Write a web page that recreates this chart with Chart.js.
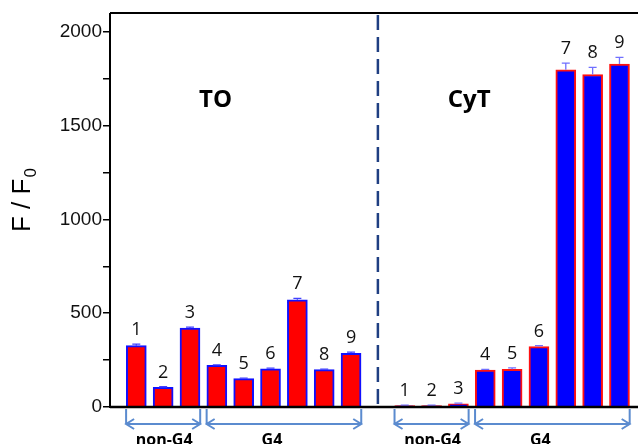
<!DOCTYPE html>
<html>
<head>
<meta charset="utf-8">
<script src="https://cdn.jsdelivr.net/npm/chart.js@4/dist/chart.umd.min.js"></script>
<style>
  html, body { margin: 0; padding: 0; background: #fff; overflow: hidden; }
  #wrap { width: 638px; height: 444px; position: relative; }
</style>
</head>
<body>
<div id="wrap"><canvas id="c" width="638" height="444"></canvas></div>
<script>
// Sample numbers shown above each bar
const samples = ['1', '2', '3', '4', '5', '6', '7', '8', '9'];
// Dye names for the two panels
const dyes = ['TO', 'CyT'];
// Sample groups (in order) and how many samples each holds
const groupNames = ['non-G4', 'G4'];
const groupSizes = [3, 6];

// Fluorescence enhancement F/F0 and error for each sample
const toValues  = [327, 105, 420, 222, 151, 204, 571, 199, 286];
const toErrors  = [8, 3, 6, 3, 3, 3, 8, 3, 6];
const cytValues = [7, 7, 17, 197, 201, 322, 1797, 1772, 1828];
const cytErrors = [3, 3, 4, 4, 8, 5, 36, 38, 35];

// y axis ticks
const yTickStep = 250;
const yLabelStep = 500;

// slot index on the x axis: first panel, one empty slot, second panel
const n = samples.length;
const slotTO  = i => i;
const slotCyT = i => i + n + 1;

const toData  = toValues.map((v, i) => ({ x: slotTO(i), y: v }));
const cytData = cytValues.map((v, i) => ({ x: slotCyT(i), y: v }));

const annotations = {
  id: 'annotations',
  afterDatasetsDraw(chart) {
    const ctx = chart.ctx;
    const xs = chart.scales.x, ys = chart.scales.y;
    const area = chart.chartArea;

    // error bars
    const drawErr = (vals, errs, slotFn, color) => {
      ctx.save();
      ctx.strokeStyle = color;
      ctx.lineWidth = 1.3;
      vals.forEach((v, i) => {
        const x = xs.getPixelForValue(slotFn(i));
        const yTop = ys.getPixelForValue(v + errs[i]);
        const yMid = ys.getPixelForValue(v);
        ctx.beginPath();
        ctx.moveTo(x, yMid); ctx.lineTo(x, yTop);
        ctx.moveTo(x - 4, yTop); ctx.lineTo(x + 4, yTop);
        ctx.stroke();
      });
      ctx.restore();
    };
    drawErr(toValues, toErrors, slotTO, '#4040ff');
    drawErr(cytValues, cytErrors, slotCyT, '#7070ff');

    // sample numbers over the bars
    ctx.save();
    ctx.fillStyle = '#111';
    ctx.font = '18px "Open Sans", sans-serif';
    ctx.textAlign = 'center';
    ctx.textBaseline = 'alphabetic';
    const drawNums = (vals, errs, slotFn) => {
      vals.forEach((v, i) => {
        const x = xs.getPixelForValue(slotFn(i));
        const y = ys.getPixelForValue(v + errs[i]) - 9;
        ctx.fillText(samples[i], x, y);
      });
    };
    drawNums(toValues, toErrors, slotTO);
    drawNums(cytValues, cytErrors, slotCyT);
    ctx.restore();

    // dashed separator between the two dyes
    ctx.save();
    const xSep = xs.getPixelForValue(n);
    ctx.strokeStyle = '#1f3f82';
    ctx.lineWidth = 2.5;
    ctx.setLineDash([15, 7]);
    ctx.beginPath();
    ctx.moveTo(xSep, area.top + 2);
    ctx.lineTo(xSep, area.bottom);
    ctx.stroke();
    ctx.restore();

    // dye names
    ctx.save();
    ctx.fillStyle = '#000';
    ctx.font = 'bold 24px "Open Sans", sans-serif';
    ctx.textAlign = 'center';
    ctx.textBaseline = 'alphabetic';
    ctx.fillText(dyes[0], xs.getPixelForValue(2.95), 107);
    ctx.fillText(dyes[1], xs.getPixelForValue(12.4), 107);
    ctx.restore();

    // frame
    ctx.save();
    ctx.strokeStyle = '#000';
    ctx.lineWidth = 2;
    ctx.beginPath();
    ctx.moveTo(area.left, area.top); ctx.lineTo(area.right, area.top);
    ctx.moveTo(area.left, area.top); ctx.lineTo(area.left, area.bottom + 1);
    ctx.stroke();
    ctx.lineWidth = 2.5;
    ctx.beginPath();
    ctx.moveTo(area.left, area.bottom); ctx.lineTo(area.right, area.bottom);
    ctx.stroke();
    ctx.restore();
  },
  afterDraw(chart) {
    const ctx = chart.ctx;
    const xs = chart.scales.x;
    const area = chart.chartArea;

    // group brackets with double-headed arrows
    const yArrow = area.bottom + 17;
    const drawArrow = (x1, x2) => {
      ctx.beginPath();
      ctx.moveTo(x1, area.bottom + 2); ctx.lineTo(x1, yArrow);
      ctx.moveTo(x2, area.bottom + 2); ctx.lineTo(x2, yArrow);
      ctx.moveTo(x1, yArrow); ctx.lineTo(x2, yArrow);
      ctx.moveTo(x1 + 8, yArrow - 5); ctx.lineTo(x1, yArrow); ctx.lineTo(x1 + 8, yArrow + 5);
      ctx.moveTo(x2 - 8, yArrow - 5); ctx.lineTo(x2, yArrow); ctx.lineTo(x2 - 8, yArrow + 5);
      ctx.stroke();
    };
    ctx.save();
    ctx.strokeStyle = '#5b8bcf';
    ctx.lineWidth = 2;
    ctx.lineJoin = 'miter';
    const labels = [];
    [slotTO, slotCyT].forEach(slotFn => {
      let start = 0;
      groupSizes.forEach((size, g) => {
        const x1 = xs.getPixelForValue(slotFn(start) - 0.38);
        const x2 = xs.getPixelForValue(slotFn(start + size - 1) + 0.38);
        drawArrow(x1, x2);
        const shift = g === 0 ? 1 : -12;
        labels.push([groupNames[g], (x1 + x2) / 2 + shift]);
        start += size;
      });
    });
    ctx.restore();

    ctx.save();
    ctx.fillStyle = '#000';
    ctx.font = 'bold 16px "Open Sans", sans-serif';
    ctx.textAlign = 'center';
    ctx.textBaseline = 'alphabetic';
    labels.forEach(([t, x]) => ctx.fillText(t, x, 445));
    ctx.restore();

    // y axis title F / F0
    ctx.save();
    ctx.translate(30, 232);
    ctx.rotate(-Math.PI / 2);
    ctx.fillStyle = '#000';
    ctx.textBaseline = 'alphabetic';
    ctx.textAlign = 'left';
    ctx.font = '26px "Liberation Sans", Arial, sans-serif';
    const main = 'F / F';
    ctx.fillText(main, 0, 0);
    const w = ctx.measureText(main).width;
    ctx.font = '17px "Liberation Sans", Arial, sans-serif';
    ctx.fillText('0', w + 1, 6);
    ctx.restore();
  }
};

new Chart(document.getElementById('c'), {
  type: 'bar',
  data: {
    datasets: [
      {
        label: dyes[0],
        data: toData,
        backgroundColor: '#ff0000',
        borderColor: '#1010ff',
        borderWidth: 2,
        borderSkipped: 'bottom'
      },
      {
        label: dyes[1],
        data: cytData,
        backgroundColor: '#0000ff',
        borderColor: '#ff1010',
        borderWidth: 2,
        borderSkipped: 'bottom'
      }
    ]
  },
  options: {
    responsive: false,
    animation: false,
    devicePixelRatio: 1,
    grouped: false,
    barThickness: 20,
    layout: { padding: { left: 0, right: 0, top: 13, bottom: 0 } },
    plugins: { legend: { display: false }, tooltip: { enabled: false } },
    scales: {
      x: {
        type: 'linear',
        offset: false,
        min: -0.98,
        max: 18.69,
        ticks: { display: false },
        grid: { display: false, offset: false },
        border: { display: false },
        afterFit(scale) { scale.height = 37; }
      },
      y: {
        min: 0,
        max: 2100,
        ticks: {
          stepSize: yTickStep,
          includeBounds: false,
          autoSkip: false,
          padding: 1,
          color: '#111',
          font: { family: '"Liberation Sans", Arial, sans-serif', size: 19 },
          callback: v => (v % yLabelStep === 0 ? String(v) : '')
        },
        grid: {
          drawOnChartArea: false,
          drawTicks: true,
          tickLength: 7,
          color: '#000',
          lineWidth: 1.5
        },
        border: { display: false },
        afterFit(scale) { scale.width = 110; }
      }
    }
  },
  plugins: [annotations]
});
</script>
</body>
</html>
